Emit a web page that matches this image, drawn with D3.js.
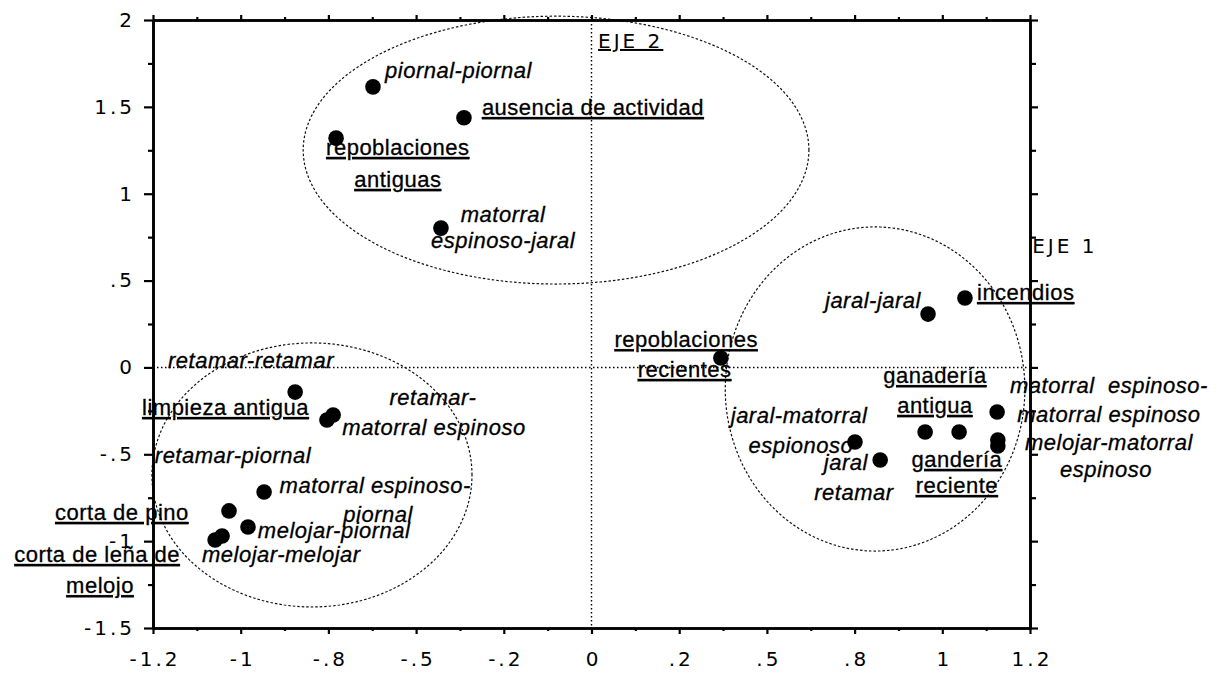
<!DOCTYPE html>
<html><head><meta charset="utf-8">
<script src="https://cdn.jsdelivr.net/npm/d3@7"></script>
<style>body{margin:0;background:#fff}</style>
</head><body><svg id="c" width="1219" height="673"></svg>
<script>
// ---- data ----
const xTickValues = [-1.2, -0.96, -0.72, -0.48, -0.24, 0, 0.24, 0.48, 0.72, 0.96, 1.2];
const xTickLabels = ["-1.2", "-1", "-.8", "-.5", "-.2", "0", ".2", ".5", ".8", "1", "1.2"];
const xMinorTicks = [-1.08, -0.84, -0.6, -0.36, -0.12, 0.12, 0.36, 0.6, 0.84, 1.08];
const yTickValues = [2, 1.5, 1, 0.5, 0, -0.5, -1, -1.5];
const yTickLabels = ["2", "1.5", "1", ".5", "0", "-.5", "-1", "-1.5"];
const yMinorTicks = [1.75, 1.25, 0.75, 0.25, -0.25, -0.75, -1.25];

// factor scores (Eje 1, Eje 2)
const pointsX = [-0.598, -0.349, -0.699, -0.412, 0.921, 1.022, 0.354, 1.110, 1.112, 1.112,
                 0.913, 1.006, 0.721, 0.790, -0.811, -0.724, -0.707, -0.896, -0.992, -0.940, -1.030, -1.011];
const pointsY = [1.615, 1.437, 1.320, 0.802, 0.307, 0.400, 0.054, -0.257, -0.418, -0.452,
                 -0.372, -0.372, -0.429, -0.533, -0.142, -0.303, -0.274, -0.717, -0.826, -0.919, -0.993, -0.970];

// category labels: t = text, x/y = anchor in factor units, a = anchor, k = i (active, italic) / s (supplementary, underlined)
const labels = [
  {t:"piornal-piornal", x:-0.565, y:1.666, a:"start", k:"i"},
  {t:"matorral", x:-0.242, y:0.837, a:"middle", k:"i"},
  {t:"espinoso-jaral", x:-0.242, y:0.688, a:"middle", k:"i"},
  {t:"jaral-jaral", x:0.639, y:0.342, a:"start", k:"i"},
  {t:"matorral  espinoso-", x:1.416, y:-0.147, a:"middle", k:"i"},
  {t:"matorral espinoso", x:1.416, y:-0.314, a:"middle", k:"i"},
  {t:"melojar-matorral", x:1.416, y:-0.476, a:"middle", k:"i"},
  {t:"espinoso", x:1.408, y:-0.631, a:"middle", k:"i"},
  {t:"jaral-matorral", x:0.568, y:-0.320, a:"middle", k:"i"},
  {t:"espionoso", x:0.573, y:-0.493, a:"middle", k:"i"},
  {t:"jaral", x:0.696, y:-0.591, a:"middle", k:"i"},
  {t:"retamar", x:0.718, y:-0.764, a:"middle", k:"i"},
  {t:"retamar-retamar", x:-1.159, y:-0.003, a:"start", k:"i"},
  {t:"retamar-", x:-0.434, y:-0.216, a:"middle", k:"i"},
  {t:"matorral espinoso", x:-0.431, y:-0.389, a:"middle", k:"i"},
  {t:"retamar-piornal", x:-1.195, y:-0.550, a:"start", k:"i"},
  {t:"matorral espinoso-", x:-0.592, y:-0.723, a:"middle", k:"i"},
  {t:"piornal", x:-0.584, y:-0.890, a:"middle", k:"i"},
  {t:"melojar-piornal", x:-0.913, y:-0.982, a:"start", k:"i"},
  {t:"melojar-melojar", x:-1.066, y:-1.120, a:"start", k:"i"},
  {t:"ausencia de actividad", x:-0.300, y:1.453, a:"start", k:"s"},
  {t:"repoblaciones", x:-0.530, y:1.223, a:"middle", k:"s"},
  {t:"antiguas", x:-0.530, y:1.039, a:"middle", k:"s"},
  {t:"incendios", x:1.055, y:0.388, a:"start", k:"s"},
  {t:"repoblaciones", x:0.259, y:0.117, a:"middle", k:"s"},
  {t:"recientes", x:0.255, y:-0.055, a:"middle", k:"s"},
  {t:"ganadería", x:0.940, y:-0.090, a:"middle", k:"s"},
  {t:"antigua", x:0.940, y:-0.262, a:"middle", k:"s"},
  {t:"gandería", x:1.000, y:-0.573, a:"middle", k:"s"},
  {t:"reciente", x:1.000, y:-0.723, a:"middle", k:"s"},
  {t:"limpieza antigua", x:-1.230, y:-0.274, a:"start", k:"s"},
  {t:"corta de pino", x:-1.468, y:-0.878, a:"start", k:"s"},
  {t:"corta de leña de", x:-1.353, y:-1.120, a:"middle", k:"s"},
  {t:"melojo", x:-1.345, y:-1.299, a:"middle", k:"s"}
];

// groups (ellipses) in factor units
const groups = [
  {cx:-0.097, cy:1.251, rx:0.692, ry:0.771},
  {cx:-0.765, cy:-0.619, rx:0.438, ry:0.760},
  {cx:0.776, cy:-0.124, rx:0.410, ry:0.933}
];

const axisNames = [
  {t:"EJE 2", x:0.018, y:1.839, u:true},
  {t:"EJE 1", x:1.206, y:0.659, u:false}
];

// ---- drawing ----
const svg = d3.select("#c");
svg.append("rect").attr("width",1219).attr("height",673).attr("fill","#fff");
const L = 153, R = 1030, T = 20, B = 628;
const x = d3.scaleLinear().domain([-1.2, 1.2]).range([L, R]);
const y = d3.scaleLinear().domain([-1.5, 2]).range([B, T]);

const tickFont = "'DejaVu Sans', sans-serif";
const labFont = "'Liberation Sans', Arial, sans-serif";

// zero reference lines
svg.append("line").attr("x1", L).attr("x2", R).attr("y1", y(0)).attr("y2", y(0))
  .attr("stroke","#000").attr("stroke-width",1.4).attr("stroke-dasharray","1.5,2.5");
svg.append("line").attr("x1", x(0)).attr("x2", x(0)).attr("y1", T).attr("y2", B)
  .attr("stroke","#000").attr("stroke-width",1.4).attr("stroke-dasharray","1.5,2.5");

// ellipses
const ang = d3.range(0, 361, 2).map(d => d * Math.PI / 180);
const line = d3.line();
svg.selectAll("path.ell").data(groups).join("path").attr("class","ell")
  .attr("d", g => line(ang.map(a => [x(g.cx + g.rx * Math.cos(a)), y(g.cy + g.ry * Math.sin(a))])) + "Z")
  .attr("fill","none").attr("stroke","#111").attr("stroke-width",1.2).attr("stroke-dasharray","2.5,2");

// axes
function styleAxis(g) {
  g.select(".domain").attr("stroke","#000").attr("stroke-width",2.6);
  g.selectAll(".tick line").attr("stroke","#000").attr("stroke-width",2.2);
}
const gb = svg.append("g").attr("transform",`translate(0,${B})`)
  .call(d3.axisBottom(x).tickValues(xTickValues).tickFormat((d,i)=>xTickLabels[i]).tickSize(6).tickSizeOuter(0).tickPadding(18));
styleAxis(gb);
gb.selectAll("text").attr("font-family",tickFont).attr("font-size",20).attr("fill","#000")
  .attr("letter-spacing",3).attr("dx",1.5);
svg.append("g").attr("transform",`translate(0,${B})`)
  .call(d3.axisBottom(x).tickValues(xMinorTicks).tickFormat("").tickSize(3).tickSizeOuter(0))
  .call(styleAxis);

const gl = svg.append("g").attr("transform",`translate(${L},0)`)
  .call(d3.axisLeft(y).tickValues(yTickValues).tickFormat((d,i)=>yTickLabels[i]).tickSize(9).tickSizeOuter(0).tickPadding(12));
styleAxis(gl);
gl.selectAll("text").attr("font-family",tickFont).attr("font-size",20).attr("fill","#000")
  .attr("letter-spacing",3).attr("dx",3);
svg.append("g").attr("transform",`translate(${L},0)`)
  .call(d3.axisLeft(y).tickValues(yMinorTicks).tickFormat("").tickSize(5).tickSizeOuter(0))
  .call(styleAxis);

svg.append("g").attr("transform",`translate(0,${T})`)
  .call(d3.axisTop(x).tickValues(xTickValues).tickFormat("").tickSize(5).tickSizeOuter(0)).call(styleAxis);
svg.append("g").attr("transform",`translate(0,${T})`)
  .call(d3.axisTop(x).tickValues(xMinorTicks).tickFormat("").tickSize(3).tickSizeOuter(0)).call(styleAxis);
svg.append("g").attr("transform",`translate(${R},0)`)
  .call(d3.axisRight(y).tickValues(yTickValues).tickFormat("").tickSize(8).tickSizeOuter(0)).call(styleAxis);
svg.append("g").attr("transform",`translate(${R},0)`)
  .call(d3.axisRight(y).tickValues(yMinorTicks).tickFormat("").tickSize(6).tickSizeOuter(0)).call(styleAxis);

// points
svg.selectAll("circle.pt").data(pointsX).join("circle").attr("class","pt")
  .attr("cx", d => x(d)).attr("cy", (d,i) => y(pointsY[i])).attr("r", 7.8).attr("fill","#000");

// labels
svg.selectAll("text.lab").data(labels).join("text").attr("class","lab")
  .attr("x", d => x(d.x)).attr("y", d => y(d.y)).attr("text-anchor", d => d.a)
  .attr("font-family", labFont).attr("font-size", 22).attr("letter-spacing", 0.5)
  .attr("font-style", d => d.k === "i" ? "italic" : "normal")
  .attr("text-decoration", d => d.k === "s" ? "underline" : "none")
  .attr("fill","#000").attr("stroke","#000").attr("stroke-width",0.3)
  .style("white-space","pre")
  .text(d => d.t);

// axis names
svg.selectAll("text.ax").data(axisNames).join("text").attr("class","ax")
  .attr("x", d => x(d.x)).attr("y", d => y(d.y))
  .attr("font-family", tickFont).attr("font-size", 20).attr("letter-spacing", 3)
  .attr("text-decoration", d => d.u ? "underline" : "none").attr("fill","#000")
  .text(d => d.t);
</script></body></html>
